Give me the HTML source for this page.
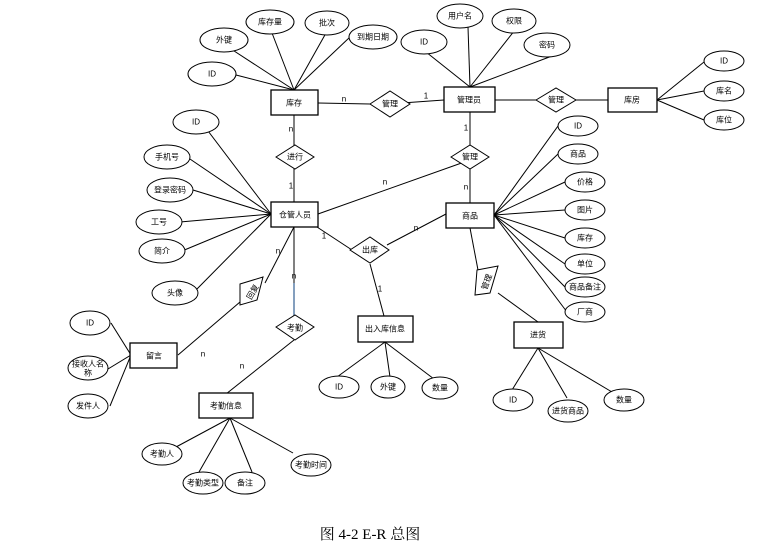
<!DOCTYPE html>
<html><head><meta charset="utf-8"><style>
html,body{margin:0;padding:0;background:#fff;width:778px;height:550px;overflow:hidden}
svg{display:block}
text{font-family:"Liberation Sans","Noto Sans CJK SC",sans-serif;font-size:8px;fill:#000;text-anchor:middle;dominant-baseline:central}
.l{stroke:#000;stroke-width:1;fill:none}
.e{stroke:#000;stroke-width:1;fill:#fff}
.r{stroke:#000;stroke-width:1.3;fill:#fff}
</style></head><body>
<svg width="778" height="550" viewBox="0 0 778 550">
<g class="l">
<!-- 库存 attrs -->
<line x1="294" y1="90" x2="228" y2="47"/><line x1="294" y1="90" x2="272" y2="33"/><line x1="294" y1="90" x2="326" y2="33"/><line x1="294" y1="90" x2="350" y2="37"/><line x1="294" y1="90" x2="236" y2="75"/>
<!-- admin attrs -->
<line x1="470" y1="87" x2="426" y2="52"/><line x1="470" y1="87" x2="468" y2="27"/><line x1="470" y1="87" x2="515" y2="30"/><line x1="470" y1="87" x2="552" y2="56"/>
<!-- 库房 attrs -->
<line x1="657" y1="100" x2="704" y2="62"/><line x1="657" y1="100" x2="704" y2="91"/><line x1="657" y1="100" x2="704" y2="120"/>
<!-- relations top -->
<line x1="318" y1="103" x2="370" y2="104"/><line x1="388" y1="104" x2="444" y2="100"/>
<line x1="495" y1="100" x2="612" y2="100"/>
<line x1="294" y1="115" x2="294" y2="215"/>
<line x1="470" y1="112" x2="470" y2="203"/>
<line x1="318" y1="214" x2="470" y2="160"/>
<!-- staff attrs -->
<line x1="271" y1="214" x2="205" y2="127"/><line x1="271" y1="214" x2="187" y2="157"/><line x1="271" y1="214" x2="193" y2="190"/><line x1="271" y1="214" x2="180" y2="222"/><line x1="271" y1="214" x2="182" y2="251"/><line x1="271" y1="214" x2="196" y2="290"/>
<!-- product attrs -->
<line x1="494" y1="215" x2="558" y2="126"/><line x1="494" y1="215" x2="558" y2="154"/><line x1="494" y1="215" x2="565" y2="182"/><line x1="494" y1="215" x2="565" y2="210"/><line x1="494" y1="215" x2="565" y2="238"/><line x1="494" y1="215" x2="565" y2="264"/><line x1="494" y1="215" x2="565" y2="287"/><line x1="494" y1="215" x2="567" y2="312"/>
<!-- 出库 -->
<line x1="317" y1="227" x2="352" y2="250"/><line x1="387" y1="245" x2="446" y2="214"/><line x1="370" y1="264" x2="384" y2="316"/>
<!-- product -> 进货 -->
<line x1="470" y1="228" x2="478" y2="270"/><line x1="498" y1="293" x2="538" y2="322"/>
<!-- 回复 -->
<line x1="294" y1="227" x2="265" y2="283"/><line x1="240" y1="302" x2="178" y2="355"/>
<!-- 留言 attrs -->
<line x1="131" y1="355" x2="111" y2="323"/><line x1="131" y1="355" x2="108" y2="369"/><line x1="131" y1="355" x2="110" y2="406"/>
<!-- 考勤 -->
<line x1="294" y1="315" x2="294" y2="320" /><line x1="294" y1="340" x2="226" y2="394"/>
<!-- 出入库 attrs -->
<line x1="385" y1="342" x2="337" y2="377"/><line x1="385" y1="342" x2="390" y2="377"/><line x1="385" y1="342" x2="434" y2="379"/>
<!-- 进货 attrs -->
<line x1="538" y1="348" x2="512" y2="390"/><line x1="538" y1="348" x2="567" y2="398"/><line x1="538" y1="348" x2="612" y2="392"/>
<!-- 考勤信息 attrs -->
<line x1="230" y1="418" x2="163" y2="454"/><line x1="230" y1="418" x2="199" y2="472"/><line x1="230" y1="418" x2="252" y2="472"/><line x1="230" y1="418" x2="293" y2="453"/>
</g>
<line x1="294" y1="227" x2="294" y2="320" stroke="#000"/>
<line x1="294" y1="283" x2="294" y2="318" stroke="#5a7fa8" stroke-width="1.5"/>
<!-- diamonds -->
<g class="e">
<polygon points="370,104 390,91 410,104 390,117"/>
<polygon points="536,100 556,88 576,100 556,112"/>
<polygon points="276,157 295,145 314,157 295,169"/>
<polygon points="451,157 470,145 489,157 470,169"/>
<polygon points="350,250 370,237 389,250 370,263"/>
<polygon points="276,327 295,315 314,327 295,340"/>
<polygon points="240,284 263,277 257,300 240,305"/>
<polygon points="477,270 498,266 490,293 475,295"/>
</g>
<!-- entities -->
<g class="r">
<rect x="271" y="90" width="47" height="25"/>
<rect x="444" y="87" width="51" height="25"/>
<rect x="608" y="88" width="49" height="24"/>
<rect x="271" y="202" width="47" height="25"/>
<rect x="446" y="203" width="48" height="25"/>
<rect x="130" y="343" width="47" height="25"/>
<rect x="358" y="316" width="55" height="26"/>
<rect x="514" y="322" width="49" height="26"/>
<rect x="199" y="393" width="54" height="25"/>
</g>
<!-- ellipses -->
<g class="e">
<ellipse cx="224" cy="40" rx="24" ry="12"/><ellipse cx="270" cy="22" rx="24" ry="12"/><ellipse cx="327" cy="23" rx="22" ry="12"/><ellipse cx="373" cy="37" rx="24" ry="12"/><ellipse cx="212" cy="74" rx="24" ry="12"/>
<ellipse cx="424" cy="42" rx="23" ry="12"/><ellipse cx="460" cy="16" rx="23" ry="12"/><ellipse cx="514" cy="21" rx="22" ry="12"/><ellipse cx="547" cy="45" rx="23" ry="12"/>
<ellipse cx="724" cy="61" rx="20" ry="10"/><ellipse cx="724" cy="91" rx="20" ry="10"/><ellipse cx="724" cy="120" rx="20" ry="10"/>
<ellipse cx="196" cy="122" rx="23" ry="12"/><ellipse cx="167" cy="157" rx="23" ry="12"/><ellipse cx="170" cy="190" rx="23" ry="12"/><ellipse cx="159" cy="222" rx="23" ry="12"/><ellipse cx="162" cy="251" rx="23" ry="12"/><ellipse cx="175" cy="293" rx="23" ry="12"/>
<ellipse cx="578" cy="126" rx="20" ry="10"/><ellipse cx="578" cy="154" rx="20" ry="10"/><ellipse cx="585" cy="182" rx="20" ry="10"/><ellipse cx="585" cy="210" rx="20" ry="10"/><ellipse cx="585" cy="238" rx="20" ry="10"/><ellipse cx="585" cy="264" rx="20" ry="10"/><ellipse cx="585" cy="287" rx="20" ry="10"/><ellipse cx="585" cy="312" rx="20" ry="10"/>
<ellipse cx="90" cy="323" rx="20" ry="12"/><ellipse cx="88" cy="368" rx="20" ry="12"/><ellipse cx="88" cy="406" rx="20" ry="12"/>
<ellipse cx="339" cy="387" rx="20" ry="11"/><ellipse cx="388" cy="387" rx="17" ry="11"/><ellipse cx="440" cy="388" rx="18" ry="11"/>
<ellipse cx="513" cy="400" rx="20" ry="11"/><ellipse cx="568" cy="411" rx="20" ry="11"/><ellipse cx="624" cy="400" rx="20" ry="11"/>
<ellipse cx="162" cy="454" rx="20" ry="11"/><ellipse cx="203" cy="483" rx="20" ry="11"/><ellipse cx="245" cy="483" rx="20" ry="11"/><ellipse cx="311" cy="465" rx="20" ry="11"/>
</g>
<!-- labels -->
<text x="294" y="103">库存</text><text x="469" y="100">管理员</text><text x="632" y="100">库房</text>
<text x="295" y="215">仓管人员</text><text x="470" y="216">商品</text><text x="154" y="356">留言</text>
<text x="385" y="329">出入库信息</text><text x="538" y="335">进货</text><text x="226" y="406">考勤信息</text>
<text x="390" y="104">管理</text><text x="556" y="100">管理</text><text x="295" y="157">进行</text><text x="470" y="157">管理</text>
<text x="370" y="250">出库</text><text x="295" y="328">考勤</text>
<text x="253" y="292" fill="#888" transform="rotate(-60 253 292)">回复</text>
<text x="487" y="282" fill="#888" transform="rotate(-70 487 282)">管理</text>
<text x="224" y="40">外键</text><text x="270" y="22">库存量</text><text x="327" y="23">批次</text><text x="373" y="37">到期日期</text><text x="212" y="74">ID</text>
<text x="424" y="42">ID</text><text x="460" y="16">用户名</text><text x="514" y="21">权限</text><text x="547" y="45">密码</text>
<text x="724" y="61">ID</text><text x="724" y="91">库名</text><text x="724" y="120">库位</text>
<text x="196" y="122">ID</text><text x="167" y="157">手机号</text><text x="170" y="190">登录密码</text><text x="159" y="222">工号</text><text x="162" y="251">简介</text><text x="175" y="293">头像</text>
<text x="578" y="126">ID</text><text x="578" y="154">商品</text><text x="585" y="182">价格</text><text x="585" y="210">图片</text><text x="585" y="238">库存</text><text x="585" y="264">单位</text><text x="585" y="287">商品备注</text><text x="585" y="312">厂商</text>
<text x="90" y="323">ID</text><text x="88" y="364">接收人名</text><text x="88" y="373">称</text><text x="88" y="406">发件人</text>
<text x="339" y="387">ID</text><text x="388" y="387">外键</text><text x="440" y="388">数量</text>
<text x="513" y="400">ID</text><text x="568" y="411">进货商品</text><text x="624" y="400">数量</text>
<text x="162" y="454">考勤人</text><text x="203" y="483">考勤类型</text><text x="245" y="483">备注</text><text x="311" y="465">考勤时间</text>
<!-- cardinalities -->
<g style="font-size:7px">
<text x="344" y="99" fill="#666">n</text><text x="426" y="96" fill="#666">1</text>
<text x="291" y="129">n</text><text x="291" y="186">1</text>
<text x="466" y="128">1</text><text x="466" y="187">n</text>
<text x="385" y="182" fill="#666">n</text>
<text x="324" y="236" fill="#666">1</text><text x="416" y="228" fill="#666">n</text><text x="380" y="289" fill="#666">1</text>
<text x="278" y="251" fill="#666">n</text><text x="294" y="276">n</text>
<text x="203" y="354">n</text><text x="242" y="366">n</text>
</g>
<text x="370" y="535" style="font-family:'Liberation Serif','Noto Serif CJK SC',serif;font-size:15px">图 4-2 E-R 总图</text>
</svg>
</body></html>
